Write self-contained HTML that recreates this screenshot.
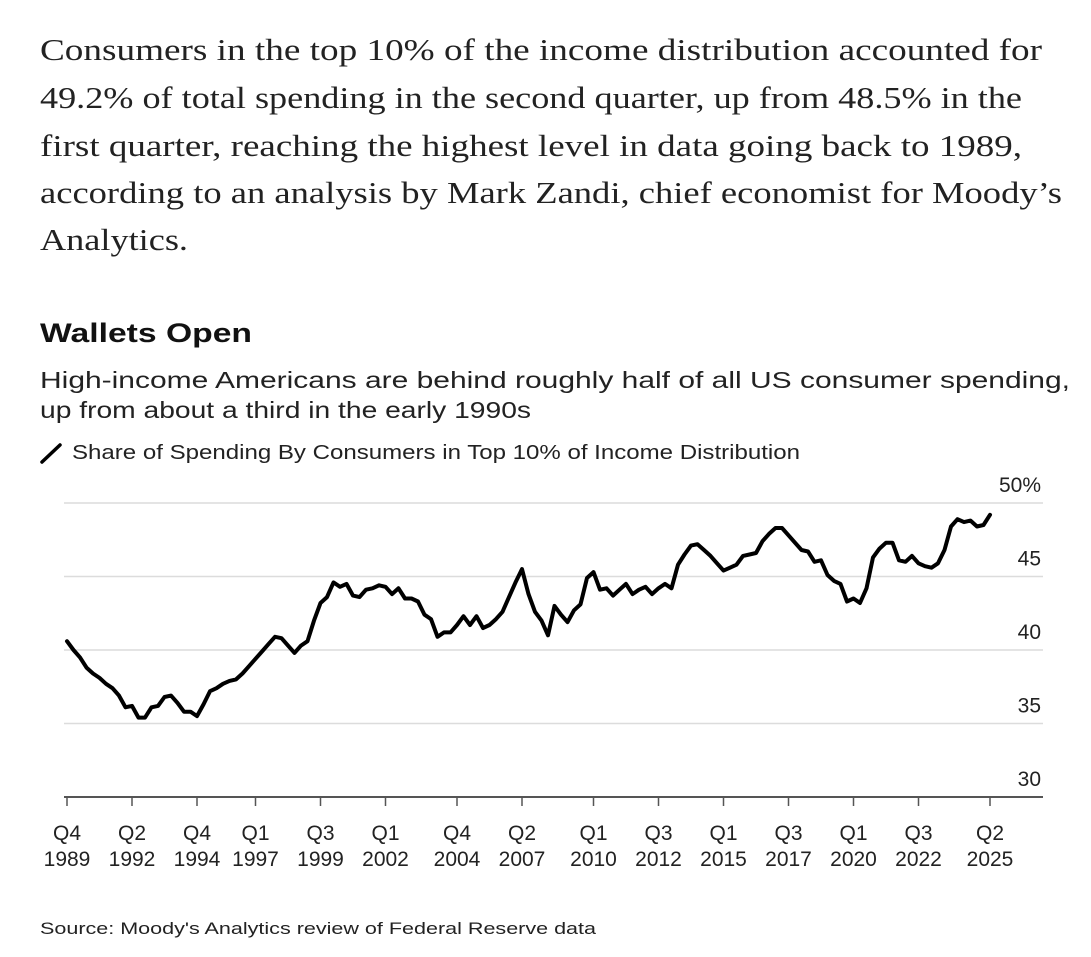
<!DOCTYPE html>
<html><head><meta charset="utf-8"><style>
html,body{margin:0;padding:0;background:#fff;}
svg{display:block;}
</style></head><body>
<svg id="chart" width="1091" height="957" viewBox="0 0 1091 957" xmlns="http://www.w3.org/2000/svg">
<g font-family="Liberation Serif, serif" font-size="31" fill="#222">
<text x="40" y="60" textLength="1002" lengthAdjust="spacingAndGlyphs">Consumers in the top 10% of the income distribution accounted for</text>
<text x="40" y="108" textLength="982" lengthAdjust="spacingAndGlyphs">49.2% of total spending in the second quarter, up from 48.5% in the</text>
<text x="40" y="156" textLength="982" lengthAdjust="spacingAndGlyphs">first quarter, reaching the highest level in data going back to 1989,</text>
<text x="40" y="203" textLength="1022" lengthAdjust="spacingAndGlyphs">according to an analysis by Mark Zandi, chief economist for Moody’s</text>
<text x="40" y="250" textLength="148" lengthAdjust="spacingAndGlyphs">Analytics.</text>
</g>
<text x="40" y="342" font-family="Liberation Sans, sans-serif" font-weight="bold" font-size="27" fill="#111" textLength="212" lengthAdjust="spacingAndGlyphs">Wallets Open</text>
<g font-family="Liberation Sans, sans-serif" font-size="23" fill="#222">
<text x="40" y="388" textLength="1030" lengthAdjust="spacingAndGlyphs">High-income Americans are behind roughly half of all US consumer spending,</text>
<text x="40" y="418" textLength="491" lengthAdjust="spacingAndGlyphs">up from about a third in the early 1990s</text>
</g>
<g>
<line x1="42" y1="462" x2="60" y2="445" stroke="#000" stroke-width="3.5" stroke-linecap="round"/>
<text x="72" y="459" font-family="Liberation Sans, sans-serif" font-size="20" fill="#222" textLength="728" lengthAdjust="spacingAndGlyphs">Share of Spending By Consumers in Top 10% of Income Distribution</text>
</g>
<g id="grid"></g>
<g id="yaxis"></g>
<g id="xaxis"></g>
<g id="series"></g>
<text x="40" y="934" font-family="Liberation Sans, sans-serif" font-size="17" fill="#222" textLength="556" lengthAdjust="spacingAndGlyphs">Source: Moody's Analytics review of Federal Reserve data</text>
</svg>
<script>
const shareValues = [
40.6,40.0,39.5,38.8,38.4,38.1,37.7,37.4,36.9,36.1,36.2,35.4,35.4,36.1,36.2,36.8,
36.9,36.4,35.8,35.8,35.5,36.3,37.2,37.4,37.7,37.9,38.0,38.4,38.9,39.4,39.9,40.4,
40.9,40.8,40.3,39.8,40.3,40.6,42.0,43.2,43.6,44.6,44.3,44.5,43.7,43.6,44.1,44.2,
44.4,44.3,43.8,44.2,43.5,43.5,43.3,42.4,42.1,40.9,41.2,41.2,41.7,42.3,41.7,42.3,
41.5,41.7,42.1,42.6,43.6,44.6,45.5,43.8,42.6,42.0,41.0,43.0,42.4,41.9,42.7,43.1,
44.9,45.3,44.1,44.2,43.7,44.1,44.5,43.8,44.1,44.3,43.8,44.2,44.5,44.2,45.8,46.5,
47.1,47.2,46.8,46.4,45.9,45.4,45.6,45.8,46.4,46.5,46.6,47.4,47.9,48.3,48.3,47.8,
47.3,46.8,46.7,46.0,46.1,45.1,44.7,44.5,43.3,43.5,43.2,44.2,46.3,46.9,47.3,47.3,
46.1,46.0,46.4,45.9,45.7,45.6,45.9,46.8,48.4,48.9,48.7,48.8,48.4,48.5,49.2];
const yTicks = [30,35,40,45,50];
const yTickLabels = ["30","35","40","45","50%"];
const xTickIndex = [0,10,20,29,39,49,60,70,81,91,101,111,121,131,142];
const xTickQuarter = ["Q4","Q2","Q4","Q1","Q3","Q1","Q4","Q2","Q1","Q3","Q1","Q3","Q1","Q3","Q2"];
const xTickYear = ["1989","1992","1994","1997","1999","2002","2004","2007","2010","2012","2015","2017","2020","2022","2025"];

const NS="http://www.w3.org/2000/svg";
const x0=67,x1=990,yBase=797,yTop=503;
const nQ=142;
function xs(i){return x0+(x1-x0)*i/nQ;}
function ys(v){return yBase-(v-30)*(yBase-yTop)/20;}
function mk(tag,attrs,parent){const e=document.createElementNS(NS,tag);for(const k in attrs)e.setAttribute(k,attrs[k]);parent.appendChild(e);return e;}
const grid=document.getElementById('grid'),yaxis=document.getElementById('yaxis'),xaxis=document.getElementById('xaxis'),series=document.getElementById('series');
yTicks.forEach((t,k)=>{
  const y=ys(t);
  if(t!==30){
    const g=mk('line',{x1:64,x2:1043,y1:y,y2:y,stroke:'#dcdcdc','stroke-width':1.5},grid);
    
    
  }
  const tx=mk('text',{x:1041,y:y-11,'text-anchor':'end','font-family':'Liberation Sans, sans-serif','font-size':21,fill:'#222'},yaxis);
  tx.textContent=yTickLabels[k];
  
  
});
const base=mk('line',{x1:64,x2:1043,y1:yBase,y2:yBase,stroke:'#555','stroke-width':2},xaxis);


xTickIndex.forEach((idx,k)=>{
  const x=xs(idx);
  const tk=mk('line',{x1:x,x2:x,y1:yBase,y2:yBase+9,stroke:'#555','stroke-width':1.5},xaxis);
  
  
  const q=mk('text',{x:x,y:840,'text-anchor':'middle','font-family':'Liberation Sans, sans-serif','font-size':21,fill:'#222'},xaxis);
  q.textContent=xTickQuarter[k];
  
  
  const yr=mk('text',{x:x,y:866,'text-anchor':'middle','font-family':'Liberation Sans, sans-serif','font-size':21,fill:'#222'},xaxis);
  yr.textContent=xTickYear[k];
  
  
});
const d=shareValues.map((v,i)=>(i?'L':'M')+xs(i).toFixed(1)+','+ys(v).toFixed(1)).join(' ');
const p=mk('path',{d:d,fill:'none',stroke:'#000','stroke-width':4,'stroke-linejoin':'round','stroke-linecap':'round'},series);


</script>
</body></html>
